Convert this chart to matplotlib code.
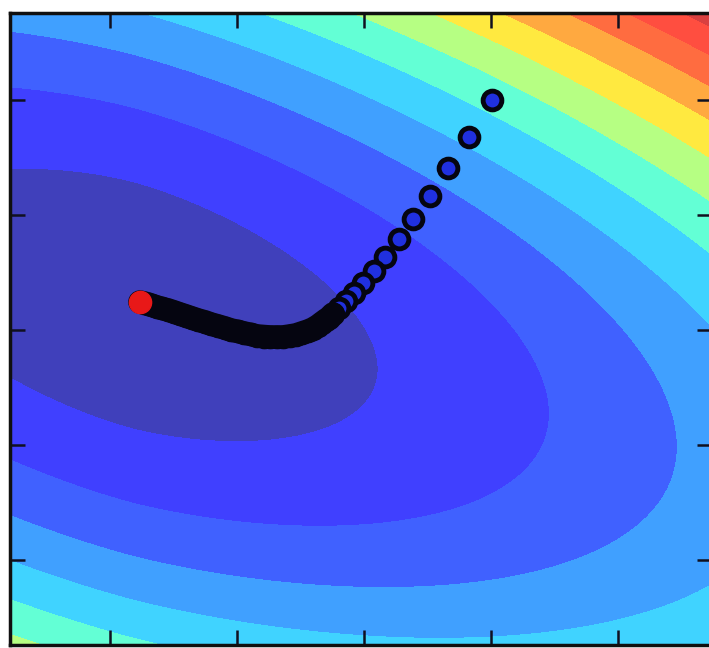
import numpy as np
import matplotlib
matplotlib.use("Agg")
import matplotlib.pyplot as plt

# cost surface: z = a*|dx|^p + c*(dy + s*dx)^2 + z_min   (valley tilted down to the right)
center = (-1.827, 0.217)
coef_a = 0.1974
power = 1.78
coef_c = 0.5537
tilt = 0.2871
z_min = 0.359
levels = np.arange(0, 15)
# position of each filled band on the jet colormap, innermost first
band_t = [0.035, 0.12, 0.17, 0.25, 0.32, 0.41, 0.54, 0.67, 0.76, 0.845, 0.89, 0.93, 0.96, 0.99]

# gradient descent iterates, last one is the red point
path_x = [1.005, 0.823, 0.661, 0.516, 0.382, 0.272, 0.169, 0.075, -0.008, -0.079,
          -0.142, -0.197, -0.244, -0.276, -0.299, -0.331, -0.362, -0.402, -0.441,
          -0.488, -0.535, -0.583, -0.638, -0.685, -0.740, -0.787, -0.843, -0.890,
          -0.945, -0.992, -1.047, -1.094, -1.150, -1.205, -1.252, -1.307, -1.354,
          -1.402, -1.449, -1.496, -1.543, -1.591, -1.630, -1.669, -1.701, -1.732,
          -1.764]
path_y = [2.000, 1.678, 1.409, 1.165, 0.965, 0.787, 0.639, 0.517, 0.409, 0.322,
          0.252, 0.191, 0.139, 0.104, 0.087, 0.061, 0.035, 0.009, -0.009,
          -0.026, -0.043, -0.052, -0.061, -0.061, -0.061, -0.057, -0.052, -0.039,
          -0.026, -0.013, 0.000, 0.017, 0.035, 0.052, 0.070, 0.087, 0.104,
          0.122, 0.139, 0.157, 0.174, 0.187, 0.200, 0.213, 0.226, 0.235,
          0.243]
dense_from = 12  # iterates pile up from here on

ticks = [-2, -1, 0, 1, 2]

xs = np.linspace(-3, 3, 600)
ys = np.linspace(-3, 3, 600)
X, Y = np.meshgrid(xs, ys)
dx = X - center[0]
dy = Y - center[1]
Z = coef_a * np.abs(dx) ** power + coef_c * (dy + tilt * dx) ** 2 + z_min

# jet colours, washed out a bit towards white
jet = plt.get_cmap("jet")
band_colors = [tuple(0.75 * np.array(jet(t)[:3]) + 0.25) for t in band_t]

fig = plt.figure(figsize=(7.09, 6.48), dpi=100)
ax = fig.add_axes([10 / 709, 3 / 648, 702 / 709, 632 / 648])
ax.contourf(X, Y, Z, levels=levels, colors=band_colors)

ax.plot(path_x[:-1], path_y[:-1], "o", ms=13.5, mfc="#2030e0", mec="#050510", mew=3.5, zorder=3)
ax.plot(path_x[dense_from:], path_y[dense_from:], "-", color="#050510", lw=17,
        solid_capstyle="round", zorder=4)
ax.plot(path_x[-1], path_y[-1], "o", ms=16, mfc="#e81818", mec="#e81818", zorder=5)

ax.set_xlim(-2.787, 2.74)
ax.set_ylim(-2.74, 2.757)
ax.set_xticks(ticks)
ax.set_yticks(ticks)
ax.tick_params(direction="in", length=11, width=1.8, color="#101020",
               top=True, right=True, labelbottom=False, labelleft=False)
for sp in ax.spines.values():
    sp.set_linewidth(2.5)
    sp.set_color("#101010")

fig.savefig("out.png", dpi=100)
